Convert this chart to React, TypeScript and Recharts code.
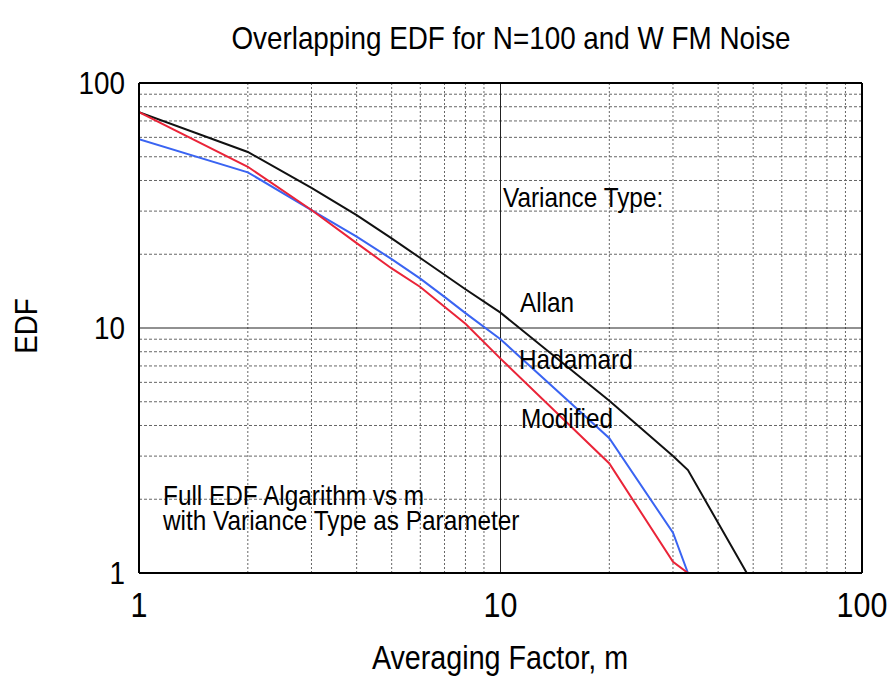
import React from 'react';
import { LineChart, Line, XAxis, YAxis, ReferenceLine } from 'recharts';

// Averaging factor m and EDF values for each variance type
const allanM = [1, 2, 3, 4, 5, 6, 7, 8, 10, 20, 30, 33, 48];
const allanEdf = [76, 52.3, 37.3, 28.9, 23.2, 19.3, 16.5, 14.4, 11.55, 5.05, 3.0, 2.63, 1.0];
const hadamardM = [1, 2, 3, 4, 5, 6, 7, 8, 10, 20, 30, 33];
const hadamardEdf = [59, 43.2, 30.3, 23.6, 19.1, 15.9, 13.4, 11.5, 9.0, 3.55, 1.46, 1.0];
const modifiedM = [1, 2, 3, 4, 5, 6, 7, 8, 10, 20, 30, 33];
const modifiedEdf = [76, 45.5, 30.3, 22.2, 17.5, 14.7, 12.2, 10.4, 7.5, 2.8, 1.11, 1.0];

const xTicks = [1, 10, 100];
const yTicks = [1, 10, 100];
const minorGrid = [2, 3, 4, 5, 6, 7, 8, 9, 20, 30, 40, 50, 60, 70, 80, 90];
const majorGrid = [10];

const title = 'Overlapping EDF for N=100 and W FM Noise';
const xTitle = 'Averaging Factor, m';
const yTitle = 'EDF';
const legendHeader = 'Variance Type:';
const seriesNames = ['Allan', 'Hadamard', 'Modified'];
const noteLines = ['Full EDF Algarithm vs m', 'with Variance Type as Parameter'];

const toRows = (ms: number[], vs: number[]) => ms.map((m, i) => ({ m, edf: vs[i] }));

const FONT = "'Liberation Sans', Arial, sans-serif";
const SQUEEZE = 0.87;

function NText(props: { x: number; y: number; size: number; anchor?: string; rotate?: number; children: any }) {
  const { x, y, size, anchor = 'start', rotate = 0, children } = props;
  return (
    <text
      transform={`translate(${x} ${y}) rotate(${rotate}) scale(${SQUEEZE} 1)`}
      x={0}
      y={0}
      fontSize={size}
      fontFamily={FONT}
      fill="#000"
      textAnchor={anchor}
      dominantBaseline="central"
    >
      {children}
    </text>
  );
}

const XTick = (p: any) => (
  <NText x={p.x} y={p.y} size={35} anchor="middle">{p.payload.value}</NText>
);
const YTick = (p: any) => (
  <NText x={p.x} y={p.y} size={32} anchor="end">{p.payload.value}</NText>
);

export default function App() {
  const allan = toRows(allanM, allanEdf);
  const hadamard = toRows(hadamardM, hadamardEdf);
  const modified = toRows(modifiedM, modifiedEdf);
  return (
    <div style={{ position: 'absolute', left: 0, top: 0, width: 893, height: 676, background: '#fff' }}>
      <LineChart width={893} height={676} margin={{ top: 83, right: 31, bottom: 53, left: 79 }}>
        <XAxis
          dataKey="m"
          type="number"
          scale="log"
          domain={[1, 100]}
          ticks={xTicks}
          allowDataOverflow
          height={50}
          tickSize={0}
          tickMargin={32}
          axisLine={{ stroke: '#000', strokeWidth: 2 }}
          tick={XTick}
        />
        <YAxis
          dataKey="edf"
          type="number"
          scale="log"
          domain={[1, 100]}
          ticks={yTicks}
          allowDataOverflow
          width={60}
          tickSize={0}
          tickMargin={14}
          axisLine={{ stroke: '#000', strokeWidth: 2 }}
          tick={YTick}
        />
        {minorGrid.map((v) => (
          <ReferenceLine key={'vx' + v} x={v} stroke="#666" strokeWidth={1} strokeDasharray="2 2" />
        ))}
        {minorGrid.map((v) => (
          <ReferenceLine key={'hy' + v} y={v} stroke="#666" strokeWidth={1} strokeDasharray="3 2" />
        ))}
        {majorGrid.map((v) => (
          <ReferenceLine key={'mx' + v} x={v} stroke="#222" strokeWidth={1} />
        ))}
        {majorGrid.map((v) => (
          <ReferenceLine key={'my' + v} y={v} stroke="#222" strokeWidth={1} />
        ))}
        <ReferenceLine x={100} stroke="#000" strokeWidth={2} />
        <ReferenceLine y={100} stroke="#000" strokeWidth={2} />
        <Line data={allan} dataKey="edf" type="linear" stroke="#111" strokeWidth={2} dot={false} isAnimationActive={false} />
        <Line data={hadamard} dataKey="edf" type="linear" stroke="#3a64f2" strokeWidth={2} dot={false} isAnimationActive={false} />
        <Line data={modified} dataKey="edf" type="linear" stroke="#ea2438" strokeWidth={2} dot={false} isAnimationActive={false} />
      </LineChart>
      <svg width={893} height={676} style={{ position: 'absolute', left: 0, top: 0, pointerEvents: 'none' }}>
        <NText x={511} y={38} size={32} anchor="middle">{title}</NText>
        <NText x={500} y={658} size={33} anchor="middle">{xTitle}</NText>
        <NText x={26} y={326} size={32} anchor="middle" rotate={-90}>{yTitle}</NText>
        <NText x={503} y={197} size={28} anchor="start">{legendHeader}</NText>
        <NText x={520} y={302} size={28} anchor="start">{seriesNames[0]}</NText>
        <NText x={519} y={359} size={28} anchor="start">{seriesNames[1]}</NText>
        <NText x={521} y={418} size={28} anchor="start">{seriesNames[2]}</NText>
        <NText x={163} y={495} size={28} anchor="start">{noteLines[0]}</NText>
        <NText x={163} y={520} size={28} anchor="start">{noteLines[1]}</NText>
      </svg>
    </div>
  );
}
